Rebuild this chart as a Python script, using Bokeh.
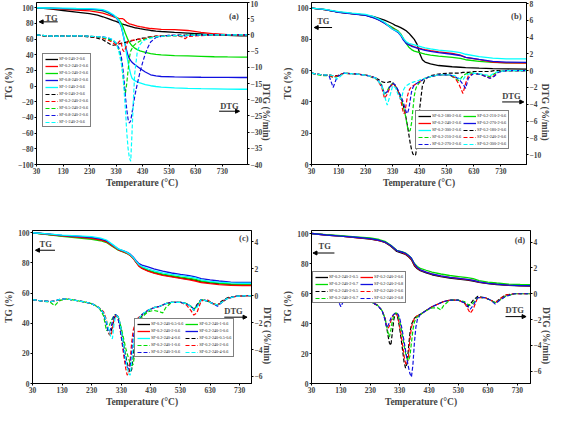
import math
from bokeh.plotting import figure
from bokeh.layouts import column, row
from bokeh.models import (Range1d, LinearAxis, FixedTicker, Label, Arrow,
                          NormalHead, Legend, LegendItem)
from bokeh.embed import file_html
from bokeh.resources import INLINE

# ------------------------------------------------------------------ data
# ---- panel (a)
names_a = ["SP-0-240-2-0.6", "SP-0.2-240-2-0.6", "SP-0.5-240-2-0.6",
           "SP-0.8-240-2-0.6", "SP-1-240-2-0.6"]
Ta_tg = [30, 80, 130, 180, 230, 260, 280, 300, 320, 330, 340, 350, 355, 360, 365,
         370, 375, 380, 385, 390, 395, 400, 410, 420, 440, 460, 480, 500, 550, 600,
         650, 700, 750, 800, 825]
tg_a_0 = [100, 98.5, 96.5, 94.5, 92.5, 90.5, 88.5, 86, 83.5, 82.5, 81, 79.5, 79, 78.5, 78,
          77.5, 77, 76.5, 76, 75.5, 75, 74.5, 74, 73.3, 72, 71, 70.3, 69.7, 68.5, 67.5,
          66.5, 65.5, 64.8, 64.2, 64]
tg_a_02 = [100, 99, 98, 97, 96, 94.5, 93, 91, 88.5, 87.5, 86.5, 86, 86, 85, 83,
           81.5, 80.5, 79.5, 79, 78.5, 78, 77.5, 76.5, 75.8, 74.5, 73.5, 73, 72.5, 72, 71,
           68.7, 66.8, 65.8, 65.2, 65]
tg_a_05 = [100, 99.5, 99, 98.5, 98, 97, 96, 93.5, 90, 88, 85, 80, 76, 72, 67,
           63, 59, 56, 53.5, 51.5, 50, 48.5, 46.5, 45, 43, 41.5, 40.5, 40, 39, 38.5,
           38, 37.5, 37.2, 37, 37]
tg_a_08 = [100, 99.5, 99, 98.7, 98.3, 97.5, 96.5, 94, 90, 87.5, 83, 75, 68, 60, 52,
           45, 39, 35, 32.5, 30.5, 29, 27.5, 25, 22.5, 18, 14.5, 13, 12.3, 11.8, 11.5,
           11.3, 11.2, 11.1, 11, 11]
tg_a_1 = [100, 99.7, 99.5, 99.2, 99, 98.3, 97.5, 95, 91, 88, 84, 76, 69, 60, 50,
          40, 30, 22, 15, 10, 8.5, 7, 5.5, 4, 2, 0.5, -0.5, -1.2, -2.2, -2.8,
          -3.2, -3.5, -3.8, -4, -4]
Ta_dtg = [30, 70, 110, 150, 200, 250, 280, 300, 310, 320, 330, 340, 345, 350, 355,
          360, 365, 370, 375, 380, 385, 390, 395, 400, 410, 420, 430, 440, 450, 460,
          480, 520, 560, 580, 590, 600, 650, 700, 750, 825]
dtg_a_0 = [0, -0.5, -0.3, -0.3, -0.4, -0.8, -1.5, -2.5, -3.0, -3.2, -3.0, -2.8, -2.7, -2.6, -2.5,
           -2.4, -2.3, -2.2, -2.1, -2.0, -1.9, -1.8, -1.7, -1.6, -1.4, -1.2, -1.0, -0.9, -0.7, -0.6,
           -0.4, -0.2, -0.1, -0.1, -0.1, 0, 0, 0, 0, 0]
dtg_a_02 = [0, -0.4, -0.5, -0.3, -0.3, -0.6, -1.0, -1.6, -2.0, -2.6, -3.2, -2.2, -1.8, -2.8, -4.6,
            -5.2, -4.2, -2.8, -2.0, -1.8, -1.7, -1.7, -1.6, -1.6, -1.4, -1.3, -1.2, -1.1, -0.9, -0.7,
            -0.4, -0.2, -0.3, -0.6, -1.2, -0.5, -0.2, -0.1, 0, 0]
dtg_a_05 = [0, -0.3, -0.4, -0.3, -0.3, -0.5, -0.8, -1.3, -1.6, -2.0, -2.6, -4.5, -6, -8, -12,
            -16, -18, -15, -11, -7, -5, -4.2, -3.5, -3.0, -2.4, -1.9, -1.6, -1.3, -1.0, -0.8,
            -0.6, -0.3, -0.2, -0.2, -0.2, -0.1, -0.1, 0, 0, 0]
dtg_a_08 = [0, -0.3, -0.4, -0.3, -0.3, -0.5, -0.6, -1.0, -1.3, -1.8, -2.6, -4, -5.3, -7, -10,
            -14, -19, -23, -26, -27.2, -26.5, -24, -21.5, -19, -15, -11.5, -8.5, -5.8, -3.8, -2.2,
            -0.8, -0.2, -0.1, -0.2, -0.3, -0.2, -0.1, 0, 0, 0]
dtg_a_1 = [0, -0.3, -0.4, -0.3, -0.3, -0.5, -0.7, -0.9, -1.2, -1.6, -2.5, -5, -7, -9, -12,
           -17, -23, -30, -35, -38, -39, -30, -20, -12, -5, -3, -2, -1.5, -1.2, -1,
           -0.6, -0.3, -0.2, -0.2, -0.2, -0.1, 0, 0, 0, 0]

# ---- panel (b)
names_b = ["SP-0.2-180-2-0.6", "SP-0.2-210-2-0.6", "SP-0.2-240-2-0.6",
           "SP-0.2-270-2-0.6", "SP-0.2-300-2-0.6"]
Tb_tg = [30, 80, 130, 180, 230, 260, 280, 300, 320, 330, 340, 350, 360, 370, 380,
         390, 400, 410, 420, 430, 440, 450, 470, 500, 550, 580, 600, 650, 700, 750, 825]
tg_b_180 = [100, 99, 97.5, 96.5, 95.5, 94.5, 93.5, 92.3, 90.8, 90, 89, 88.3, 87.5, 86.6, 85.5,
            84, 82, 80, 77, 71, 67, 65.5, 64.3, 63.3, 62.5, 62.2, 62, 61.6, 61.3, 61.1, 61]
tg_b_210 = [100, 99, 97.5, 96.5, 95.5, 94, 92.5, 90.5, 88.5, 87.5, 86.5, 85.5, 83.5, 80.5, 77.5,
            75, 73.5, 72.5, 72, 71.5, 71, 70.6, 70, 69.3, 68.5, 67.8, 67, 66, 65.3, 65, 65]
tg_b_240 = [100, 99, 97.5, 96.5, 95.5, 94, 92.5, 90.5, 88, 87, 86, 85, 83, 80, 78,
            77, 76, 75.3, 74.8, 74.3, 73.8, 73.4, 72.8, 72, 71, 70, 68.5, 67, 65.5, 65, 64.8]
tg_b_270 = [100, 99, 97.3, 96.3, 95.3, 93.8, 92.3, 90.3, 88, 86.5, 85.5, 84.5, 82.5, 79.5, 77.5,
            76.5, 75.6, 75, 74.5, 74, 73.5, 73, 72.3, 71.5, 70.5, 69.7, 68.5, 67.2, 66, 65.5, 65.3]
tg_b_300 = [100, 99.2, 97.8, 96.8, 96, 94.5, 93, 91, 88, 86.5, 85.8, 85, 83, 80.5, 78.5,
            77.5, 77, 76.5, 76, 75.5, 75, 74.6, 74, 73.2, 72.3, 71.5, 70.5, 69, 68, 67.6, 67.5]
Tb_dtg = [30, 70, 95, 110, 125, 150, 200, 240, 270, 290, 300, 310, 320, 330, 340,
          350, 360, 365, 370, 375, 380, 385, 390, 395, 400, 405, 410, 415, 420, 425,
          430, 440, 450, 470, 500, 540, 560, 575, 590, 600, 610, 630, 660, 690, 705,
          720, 750, 825]
dtg_b_180 = [-0.3, -0.5, -0.5, -0.6, -0.6, -0.3, -0.4, -0.6, -0.9, -1.3, -1.4, -1.4, -1.3, -1.4, -1.8,
             -2.4, -3.1, -3.6, -4.2, -4.9, -5.7, -6.6, -7.6, -8.6, -9.4, -9.9, -10.1, -10.0, -9.0, -7.0,
             -4.5, -1.8, -1.0, -0.6, -0.4, -0.3, -0.3, -0.3, -0.2, -0.2, -0.2, -0.1, -0.1, -0.1, 0,
             0, 0, 0]
dtg_b_210 = [-0.3, -0.6, -0.6, -0.8, -0.7, -0.3, -0.4, -0.6, -1.0, -1.7, -2.8, -2.4, -1.8, -1.5, -1.8,
             -2.4, -3.2, -3.7, -4.3, -5.0, -5.8, -6.7, -7.2, -7.1, -6.2, -4.6, -3.0, -2.2, -1.8, -1.6,
             -1.4, -1.1, -0.9, -0.7, -0.5, -0.5, -0.9, -1.2, -0.6, -0.4, -0.3, -0.3, -0.5, -0.7, -0.4,
             -0.1, 0, 0]
dtg_b_240 = [-0.3, -0.5, -0.5, -0.8, -0.6, -0.3, -0.4, -0.6, -0.9, -2.0, -3.3, -2.8, -2.0, -1.6, -1.8,
             -2.5, -3.5, -4.3, -5.1, -5.0, -4.0, -3.0, -2.4, -2.1, -1.9, -1.8, -1.7, -1.6, -1.5, -1.4,
             -1.3, -1.1, -0.9, -0.7, -0.5, -0.5, -0.8, -1.6, -2.7, -1.5, -0.6, -0.3, -0.5, -0.9, -0.6,
             -0.1, 0, 0]
dtg_b_270 = [-0.3, -0.5, -0.6, -2.0, -0.7, -0.3, -0.4, -0.6, -0.9, -1.8, -2.8, -2.5, -1.9, -1.5, -1.7,
             -2.3, -3.0, -3.4, -3.8, -4.4, -4.9, -5.1, -4.5, -3.5, -2.5, -2.0, -1.7, -1.6, -1.5, -1.4,
             -1.3, -1.1, -0.9, -0.7, -0.5, -0.5, -0.7, -1.0, -1.6, -2.1, -0.9, -0.3, -0.5, -0.9, -0.7,
             -0.2, 0, 0]
dtg_b_300 = [-0.3, -0.5, -0.5, -0.6, -1.0, -0.3, -0.4, -0.6, -0.9, -1.8, -3.0, -4.1, -3.0, -1.8, -2.0,
             -2.8, -3.4, -3.0, -2.3, -2.0, -1.8, -1.7, -1.6, -1.5, -1.4, -1.4, -1.3, -1.3, -1.2, -1.2,
             -1.1, -1.0, -0.9, -0.7, -0.5, -0.5, -0.6, -0.9, -1.1, -0.6, -0.4, -0.3, -0.4, -0.6, -0.3,
             -0.1, 0, 0]

# ---- panel (c)
names_c = ["SP-0.2-240-0.5-0.6", "SP-0.2-240-1-0.6", "SP-0.2-240-2-0.6",
           "SP-0.2-240-3-0.6", "SP-0.2-240-4-0.6"]
Tc_tg = [30, 80, 130, 180, 230, 260, 280, 300, 320, 340, 350, 360, 370, 380, 390,
         400, 420, 440, 470, 500, 530, 560, 580, 600, 630, 660, 700, 740, 770]
tg_c_05 = [100, 99, 98, 97.3, 96.5, 95.5, 94.3, 91.5, 88.8, 87.3, 86.5, 85.3, 83.3, 80.5, 78,
           76.5, 74.8, 73.5, 72, 71, 70, 69.2, 68.5, 67.5, 66.8, 66.2, 65.7, 65.5, 65.5]
tg_c_1 = [100, 98.8, 97.6, 96.6, 95.7, 94.7, 93.5, 91, 88.5, 87, 86.2, 85, 83.2, 80.7, 78.3,
          77, 75.3, 74, 72.5, 71.5, 70.6, 69.8, 69, 68, 67.2, 66.6, 66, 65.8, 65.7]
tg_c_2 = [100, 99, 98, 97.2, 96.3, 95.2, 94, 91.3, 88.7, 87.2, 86.3, 85, 83, 80.3, 77.8,
          76.3, 74.6, 73.3, 71.8, 70.8, 69.8, 68.8, 68, 67, 66.2, 65.6, 65.1, 65, 65]
tg_c_3 = [100, 99.2, 98.3, 97.7, 97, 96, 94.7, 92, 89.2, 87.8, 87, 85.8, 84, 81.5, 79.5,
          78.5, 77.3, 76, 74.5, 73.3, 72.4, 71.6, 70.8, 69.6, 68.7, 68, 67.3, 67, 67]
tg_c_4 = [100, 99.2, 98.4, 97.9, 97.4, 96.5, 95.2, 92.3, 89.3, 87.8, 86.8, 85.5, 83.6, 81, 78.8,
          77.5, 76, 74.8, 73.4, 72.4, 71.5, 70.7, 70, 68.8, 67.8, 67.2, 66.7, 66.5, 66.5]
Tc_dtg = [30, 60, 90, 105, 120, 140, 160, 200, 230, 255, 270, 280, 285, 290, 295,
          300, 305, 310, 315, 320, 325, 330, 335, 340, 345, 350, 355, 360, 365, 370,
          375, 380, 385, 390, 400, 420, 440, 460, 470, 480, 500, 530, 550, 565, 575,
          585, 600, 620, 640, 655, 670, 690, 720, 770]
dtg_c_05 = [-0.3, -0.4, -0.45, -0.4, -0.3, -0.25, -0.3, -0.45, -0.6, -0.9, -1.3, -2.0, -2.6, -2.9, -2.7,
            -2.3, -1.8, -1.5, -1.45, -1.6, -2.0, -2.6, -3.2, -3.9, -4.5, -5.0, -5.4, -5.7, -5.5, -4.5,
            -3.3, -2.5, -2.1, -1.8, -1.5, -1.1, -0.9, -0.8, -0.7, -0.6, -0.5, -0.5, -0.6, -0.8, -1.1,
            -0.7, -0.3, -0.4, -0.6, -0.7, -0.4, -0.15, -0.05, 0]
dtg_c_1 = [-0.3, -0.4, -0.5, -0.75, -0.4, -0.25, -0.3, -0.45, -0.6, -0.9, -1.5, -2.6, -2.5, -2.2, -1.9,
           -1.7, -1.5, -1.4, -1.5, -1.7, -2.0, -2.4, -2.9, -3.4, -3.9, -4.3, -4.7, -5.0, -5.2, -5.1,
           -4.4, -3.4, -2.6, -2.1, -1.6, -1.2, -1.1, -1.2, -1.3, -0.9, -0.5, -0.5, -0.6, -0.8, -1.0,
           -0.8, -0.3, -0.4, -0.6, -0.7, -0.5, -0.2, -0.05, 0]
dtg_c_2 = [-0.3, -0.4, -0.45, -0.4, -0.35, -0.25, -0.3, -0.45, -0.6, -0.9, -1.2, -1.8, -2.4, -2.9, -3.0,
           -2.5, -1.8, -1.5, -1.5, -1.8, -2.4, -3.1, -3.9, -4.7, -5.4, -5.9, -5.7, -4.8, -3.5, -2.6,
           -2.2, -1.9, -1.7, -1.6, -1.4, -1.1, -0.9, -0.8, -0.7, -0.6, -0.5, -0.5, -0.7, -1.1, -1.45,
           -1.3, -0.4, -0.3, -0.6, -0.7, -0.5, -0.2, -0.05, 0]
dtg_c_3 = [-0.3, -0.4, -0.45, -0.4, -0.3, -0.25, -0.3, -0.45, -0.6, -0.9, -1.3, -2.1, -2.6, -2.7, -2.4,
           -1.9, -1.5, -1.4, -1.5, -1.8, -2.3, -3.0, -3.7, -4.4, -5.0, -5.3, -5.45, -5.2, -4.3, -3.2,
           -2.5, -2.1, -1.8, -1.7, -1.4, -1.1, -0.9, -0.8, -0.7, -0.6, -0.5, -0.5, -0.6, -0.8, -1.0,
           -0.8, -0.3, -0.4, -0.6, -0.8, -0.5, -0.2, -0.05, 0]
dtg_c_4 = [-0.3, -0.4, -0.45, -0.4, -0.3, -0.25, -0.3, -0.45, -0.6, -0.9, -1.3, -1.9, -2.3, -2.7, -3.1,
           -3.2, -2.2, -1.6, -1.5, -1.6, -2.0, -2.6, -3.3, -4.0, -4.7, -5.3, -5.8, -5.9, -5.0, -3.8,
           -2.8, -2.2, -1.9, -1.7, -1.4, -1.1, -0.9, -0.8, -0.7, -0.6, -0.5, -0.5, -0.6, -0.8, -1.1,
           -0.9, -0.3, -0.4, -0.6, -0.7, -0.5, -0.2, -0.05, 0]

# ---- panel (d)
names_d = ["SP-0.2-240-2-0.5", "SP-0.2-240-2-0.6", "SP-0.2-240-2-0.7", "SP-0.2-240-2-0.8"]
Td_tg = [30, 80, 130, 180, 230, 260, 280, 300, 320, 340, 350, 360, 370, 380, 390,
         400, 420, 440, 470, 500, 530, 560, 580, 600, 630, 660, 700, 740, 775]
tg_d_05 = [100, 99, 98.2, 97.3, 96.3, 95.2, 94, 91.5, 88, 86.8, 86, 84.5, 82.5, 78.5, 76.5,
           75.2, 73.8, 72.5, 71.2, 70.3, 69.6, 68.9, 68.3, 67.4, 66.6, 66, 65.4, 65.1, 65]
tg_d_06 = [100, 99, 98.2, 97.3, 96.4, 95.3, 94.2, 91.8, 88.5, 87.2, 86.3, 84.8, 82.8, 79, 77,
           75.6, 74.2, 72.9, 71.6, 70.7, 70, 69.3, 68.7, 67.6, 66.8, 66.2, 65.6, 65.3, 65.2]
tg_d_07 = [100, 99.2, 98.5, 97.8, 97, 96, 94.8, 92.2, 88.8, 87.8, 87, 85.5, 83.5, 80, 78,
           76.8, 75.5, 74.3, 73, 72, 71.3, 70.6, 69.9, 68.6, 67.6, 67, 66.3, 66, 65.9]
tg_d_08 = [100, 99, 98.3, 97.5, 96.6, 95.5, 94.3, 92, 88.6, 87.5, 86.7, 85.3, 83.5, 79.8, 77.3,
           75.8, 74.3, 73, 71.7, 70.8, 70.1, 69.4, 68.8, 67.7, 66.8, 66.2, 65.6, 65.3, 65.2]
Td_dtg = [30, 60, 90, 110, 120, 130, 140, 160, 200, 230, 255, 270, 280, 285, 290,
          295, 300, 305, 310, 315, 320, 325, 330, 335, 340, 345, 350, 355, 360, 365,
          370, 375, 380, 385, 390, 400, 420, 440, 460, 470, 480, 500, 530, 550, 560,
          570, 580, 595, 620, 640, 655, 670, 690, 720, 775]
dtg_d_05 = [-0.3, -0.35, -0.4, -0.4, -0.6, -0.4, -0.3, -0.3, -0.4, -0.6, -0.9, -1.3, -1.9, -2.5, -3.2,
            -3.8, -4.0, -3.0, -2.0, -1.5, -1.6, -2.0, -2.7, -3.5, -4.4, -5.3, -5.75, -5.4, -4.2, -3.0,
            -2.4, -2.1, -1.9, -1.8, -1.7, -1.6, -1.3, -1.0, -0.8, -0.7, -0.6, -0.5, -0.5, -0.7, -1.0,
            -0.8, -0.5, -0.2, -0.3, -0.5, -0.7, -0.4, -0.1, 0, 0]
dtg_d_06 = [-0.3, -0.35, -0.4, -0.4, -0.6, -0.4, -0.3, -0.3, -0.4, -0.6, -0.9, -1.3, -1.9, -2.4, -2.7,
            -2.5, -2.1, -1.8, -1.6, -1.5, -1.6, -1.9, -2.5, -3.2, -4.0, -4.8, -5.4, -5.5, -4.8, -3.5,
            -2.6, -2.2, -1.9, -1.8, -1.7, -1.6, -1.3, -1.0, -0.8, -0.7, -0.6, -0.5, -0.5, -0.7, -1.1,
            -1.5, -1.2, -0.3, -0.3, -0.5, -0.7, -0.4, -0.1, 0, 0]
dtg_d_07 = [-0.3, -0.35, -0.4, -0.4, -0.4, -0.5, -0.4, -0.3, -0.4, -0.6, -0.9, -1.3, -1.9, -2.4, -3.0,
            -3.35, -2.8, -2.1, -1.7, -1.5, -1.5, -1.7, -2.1, -2.7, -3.3, -4.0, -4.6, -5.0, -5.2, -4.8,
            -3.8, -2.8, -2.2, -1.9, -1.8, -1.6, -1.3, -1.1, -1.1, -1.25, -0.9, -0.5, -0.5, -0.6, -0.8,
            -0.9, -0.7, -0.3, -0.3, -0.5, -0.7, -0.5, -0.2, 0, 0]
dtg_d_08 = [-0.3, -0.35, -0.4, -0.4, -0.5, -1.0, -0.5, -0.3, -0.4, -0.6, -0.9, -1.3, -2.0, -2.6, -2.5,
            -2.2, -1.9, -1.7, -1.6, -1.5, -1.5, -1.6, -1.9, -2.4, -3.0, -3.7, -4.4, -5.1, -5.7, -6.2,
            -6.45, -5.5, -3.8, -2.6, -2.0, -1.6, -1.3, -1.0, -0.8, -0.7, -0.6, -0.5, -0.5, -0.7, -0.9,
            -1.2, -0.9, -0.3, -0.3, -0.5, -0.8, -0.5, -0.2, 0, 0]

# tick labels
x_ticks = [30, 130, 230, 330, 430, 530, 630, 730]
tg_ticks_a = [-100, -80, -60, -40, -20, 0, 20, 40, 60, 80, 100]
dtg_ticks_a = [-40, -35, -30, -25, -20, -15, -10, -5, 0, 5, 10]
tg_ticks = [0, 20, 40, 60, 80, 100]
dtg_ticks_b = [-10, -8, -6, -4, -2, 0, 2, 4, 6, 8]
dtg_ticks_cd = [-6, -4, -2, 0, 2, 4]

# ------------------------------------------------------------------ style
FONT = "Liberation Serif"
BLACK, RED, GREEN, BLUE, CYAN = "#000000", "#ff0000", "#00dd00", "#1010e0", "#00ffff"


def style_axis(ax, label):
    ax.axis_label = label
    ax.axis_label_text_font = FONT
    ax.axis_label_text_font_style = "bold"
    ax.axis_label_text_font_size = "9.5px"
    ax.axis_label_standoff = 1
    ax.major_label_text_font = FONT
    ax.major_label_text_font_style = "bold"
    ax.major_label_text_font_size = "7.5px"
    ax.major_label_standoff = 1
    ax.major_tick_in = 0
    ax.major_tick_out = 2
    ax.minor_tick_line_color = None
    ax.axis_line_color = "black"
    ax.major_tick_line_color = "black"


def make_panel(height, top, bottom, xmax, ylim, rlim, yticks, rticks,
               tg_T, tg_list, dtg_T, dtg_list, names, colors,
               ncols, legend_loc, tag, tag_xy, tg_xy, tg_arrow, dtg_xy, dtg_arrow):
    p = figure(width=279, height=height, output_backend="svg", toolbar_location=None,
               x_range=Range1d(30, xmax), y_range=Range1d(*ylim),
               min_border_left=32, min_border_right=27,
               min_border_top=top, min_border_bottom=bottom)
    p.extra_y_ranges = {"dtg": Range1d(*rlim)}
    p.xgrid.visible = False
    p.ygrid.visible = False
    p.outline_line_color = "black"
    p.outline_line_alpha = 1
    p.outline_line_width = 1
    p.xaxis.ticker = FixedTicker(ticks=x_ticks)
    p.yaxis.ticker = FixedTicker(ticks=yticks)
    style_axis(p.xaxis[0], "Temperature (°C)")
    style_axis(p.yaxis[0], "TG (%)")
    rax = LinearAxis(y_range_name="dtg", ticker=FixedTicker(ticks=rticks))
    style_axis(rax, "DTG (%/min)")
    rax.axis_label_orientation = -math.pi / 2
    p.add_layout(rax, "right")

    items = []
    for vals, name, c in zip(tg_list, names, colors):
        r = p.line(tg_T, vals, line_color=c, line_width=1.3)
        items.append(LegendItem(label=name, renderers=[r]))
    for vals, name, c in zip(dtg_list, names, colors):
        r = p.line(dtg_T, vals, line_color=c, line_width=1.2, line_dash="4 2",
                   y_range_name="dtg")
        items.append(LegendItem(label=name, renderers=[r]))

    leg = Legend(items=items, location=legend_loc, ncols=ncols,
                 orientation="horizontal" if ncols > 1 else "vertical",
                 label_text_font=FONT, label_text_font_size="4.2px",
                 label_text_color="#222222", label_height=4, glyph_height=4,
                 glyph_width=13, label_standoff=1, spacing=2, padding=2, margin=0,
                 border_line_color="black", border_line_width=1,
                 background_fill_color="white", background_fill_alpha=1)
    p.add_layout(leg)

    def lab(x, y, t):
        p.add_layout(Label(x=x, y=y, text=t, text_font=FONT, text_font_style="bold",
                           text_font_size="8.5px", text_baseline="middle"))
    lab(tag_xy[0], tag_xy[1], tag)
    lab(tg_xy[0], tg_xy[1], "TG")
    lab(dtg_xy[0], dtg_xy[1], "DTG")
    for (x0, x1, y) in (tg_arrow, dtg_arrow):
        p.add_layout(Arrow(x_start=x0, y_start=y, x_end=x1, y_end=y, line_width=1,
                           end=NormalHead(size=4, fill_color="black", line_color="black")))
    return p


cols5 = [BLACK, RED, GREEN, BLUE, CYAN]
cols_b = [BLACK, GREEN, RED, BLUE, CYAN]
cols_c = [BLACK, GREEN, RED, BLUE, CYAN]
cols_d = [BLACK, RED, GREEN, BLUE]

pa = make_panel(198, 2, 34, 825, (-100, 106.7), (-40, 10), tg_ticks_a, dtg_ticks_a,
                Ta_tg, [tg_a_0, tg_a_02, tg_a_05, tg_a_08, tg_a_1],
                Ta_dtg, [dtg_a_0, dtg_a_02, dtg_a_05, dtg_a_08, dtg_a_1],
                names_a, cols5, 1, (6, 37), "(a)", (755, 89), (63, 87), (110, 40, 82),
                (722, -25), (718, 795, -32))
pb = make_panel(198, 2, 34, 825, (0, 103.6), (-11.15, 8.1), tg_ticks, dtg_ticks_b,
                Tb_tg, [tg_b_180, tg_b_210, tg_b_240, tg_b_270, tg_b_300],
                Tb_dtg, [dtg_b_180, dtg_b_210, dtg_b_240, dtg_b_270, dtg_b_300],
                names_b, cols_b, 2, (104, 15), "(b)", (768, 95), (51, 92), (106, 40, 87.6),
                (735, 43.6), (735, 815, 40))
pc = make_panel(211, 32, 0, 770, (0, 101.5), (-6.52, 4.82), tg_ticks, dtg_ticks_cd,
                Tc_tg, [tg_c_05, tg_c_1, tg_c_2, tg_c_3, tg_c_4],
                Tc_dtg, [dtg_c_05, dtg_c_1, dtg_c_2, dtg_c_3, dtg_c_4],
                names_c, cols_c, 2, (102, 26), "(c)", (728, 96.8), (54, 92.6), (106, 40, 88.4),
                (678, 48.4), (678, 755, 44))
pd = make_panel(211, 32, 0, 775, (0, 102), (-6.95, 4.9), tg_ticks, dtg_ticks_cd,
                Td_tg, [tg_d_05, tg_d_06, tg_d_07, tg_d_08],
                Td_dtg, [dtg_d_05, dtg_d_06, dtg_d_07, dtg_d_08],
                names_d, cols_d, 2, (1, 80), "(d)", (721, 96), (54, 91.5), (108, 35, 87),
                (690, 49), (690, 760, 44.6))

layout = column(row(pa, pb), row(pc, pd))
open("out.html", "w").write(file_html(layout, INLINE))
